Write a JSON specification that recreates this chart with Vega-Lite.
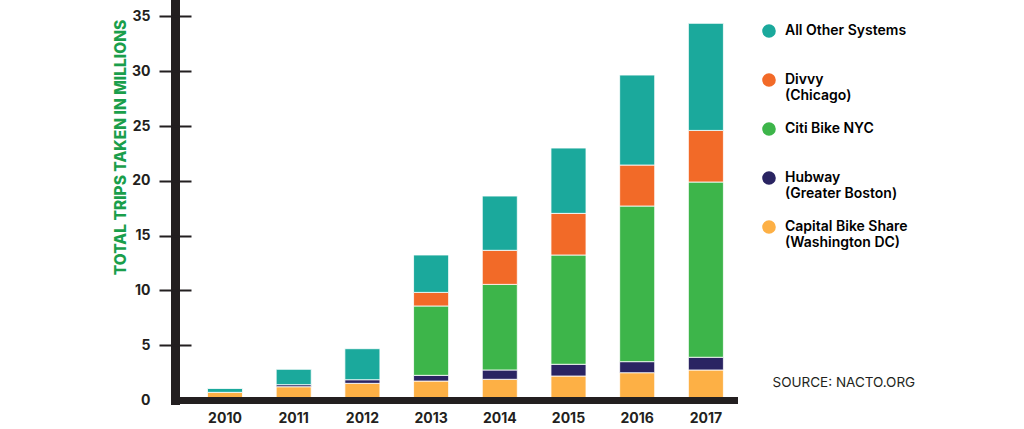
{
  "$schema": "https://vega.github.io/schema/vega-lite/v6.json",
  "width": 559,
  "height": 400,
  "autosize": {"type": "none"},
  "padding": {"left": 175, "top": 0, "right": 290, "bottom": 29},
  "config": {"view": {"stroke": null}, "font": "Inter"},
  "data": {
    "values": [
      {"year": "2010", "system": "Capital Bike Share (Washington DC)", "order": 1, "value": 0.70},
      {"year": "2010", "system": "All Other Systems", "order": 5, "value": 0.35},
      {"year": "2011", "system": "Capital Bike Share (Washington DC)", "order": 1, "value": 1.21},
      {"year": "2011", "system": "Hubway (Greater Boston)", "order": 2, "value": 0.19},
      {"year": "2011", "system": "All Other Systems", "order": 5, "value": 1.40},
      {"year": "2012", "system": "Capital Bike Share (Washington DC)", "order": 1, "value": 1.52},
      {"year": "2012", "system": "Hubway (Greater Boston)", "order": 2, "value": 0.33},
      {"year": "2012", "system": "All Other Systems", "order": 5, "value": 2.83},
      {"year": "2013", "system": "Capital Bike Share (Washington DC)", "order": 1, "value": 1.73},
      {"year": "2013", "system": "Hubway (Greater Boston)", "order": 2, "value": 0.52},
      {"year": "2013", "system": "Citi Bike NYC", "order": 3, "value": 6.33},
      {"year": "2013", "system": "Divvy (Chicago)", "order": 4, "value": 1.24},
      {"year": "2013", "system": "All Other Systems", "order": 5, "value": 3.41},
      {"year": "2014", "system": "Capital Bike Share (Washington DC)", "order": 1, "value": 1.89},
      {"year": "2014", "system": "Hubway (Greater Boston)", "order": 2, "value": 0.85},
      {"year": "2014", "system": "Citi Bike NYC", "order": 3, "value": 7.81},
      {"year": "2014", "system": "Divvy (Chicago)", "order": 4, "value": 3.11},
      {"year": "2014", "system": "All Other Systems", "order": 5, "value": 4.95},
      {"year": "2015", "system": "Capital Bike Share (Washington DC)", "order": 1, "value": 2.19},
      {"year": "2015", "system": "Hubway (Greater Boston)", "order": 2, "value": 1.07},
      {"year": "2015", "system": "Citi Bike NYC", "order": 3, "value": 9.97},
      {"year": "2015", "system": "Divvy (Chicago)", "order": 4, "value": 3.80},
      {"year": "2015", "system": "All Other Systems", "order": 5, "value": 5.96},
      {"year": "2016", "system": "Capital Bike Share (Washington DC)", "order": 1, "value": 2.49},
      {"year": "2016", "system": "Hubway (Greater Boston)", "order": 2, "value": 1.01},
      {"year": "2016", "system": "Citi Bike NYC", "order": 3, "value": 14.20},
      {"year": "2016", "system": "Divvy (Chicago)", "order": 4, "value": 3.74},
      {"year": "2016", "system": "All Other Systems", "order": 5, "value": 8.21},
      {"year": "2017", "system": "Capital Bike Share (Washington DC)", "order": 1, "value": 2.74},
      {"year": "2017", "system": "Hubway (Greater Boston)", "order": 2, "value": 1.16},
      {"year": "2017", "system": "Citi Bike NYC", "order": 3, "value": 15.99},
      {"year": "2017", "system": "Divvy (Chicago)", "order": 4, "value": 4.71},
      {"year": "2017", "system": "All Other Systems", "order": 5, "value": 9.77}
    ]
  },
  "layer": [
    {
      "mark": {"type": "bar", "stroke": "white", "strokeWidth": 0.8},
      "encoding": {
        "x": {
          "field": "year", "type": "ordinal",
          "scale": {"paddingInner": 0.49, "paddingOuter": 0.3135, "align": 0.754},
          "axis": {
            "domain": true, "domainWidth": 7, "domainColor": "#231f20", "domainCap": "square",
            "ticks": false, "tickSize": 0, "labelPadding": 18, "labelBaseline": "middle",
            "labelAngle": 0, "labelFontSize": 14, "labelFontWeight": "bold", "labelColor": "#231f20",
            "title": "SOURCE: NACTO.ORG", "titleX": 597, "titleY": -18, "titleAlign": "left",
            "titleBaseline": "middle", "titleFontSize": 13.5, "titleFontWeight": "normal",
            "titleColor": "#231f20", "zindex": 1, "grid": false
          }
        },
        "y": {
          "field": "value", "type": "quantitative", "stack": "zero",
          "scale": {"domain": [0, 36.5], "nice": false},
          "axis": {
            "orient": "left", "values": [0, 5, 10, 15, 20, 25, 30, 35],
            "domain": true, "domainWidth": 9, "domainColor": "#231f20", "domainCap": "square",
            "ticks": false, "tickSize": 0, "labelPadding": 25, "labelFlush": false, "labelOverlap": false,
            "labelFontSize": 14, "labelFontWeight": "bold", "labelColor": "#231f20",
            "grid": false,
            "title": "TOTAL TRIPS TAKEN IN MILLIONS", "titleColor": "#1a9e4b", "titleFontSize": 15.5,
            "titleFontWeight": 800, "titleAngle": 270, "titleX": -55, "titleY": 147,
            "titleAlign": "center", "titleBaseline": "middle", "zindex": 1
          }
        },
        "color": {
          "field": "system", "type": "nominal",
          "scale": {
            "domain": ["All Other Systems", "Divvy (Chicago)", "Citi Bike NYC", "Hubway (Greater Boston)", "Capital Bike Share (Washington DC)"],
            "range": ["#1ba99c", "#f26a28", "#3db54a", "#2a2462", "#fdb045"]
          },
          "legend": {
            "orient": "none", "legendX": 587, "legendY": 24, "title": null,
            "symbolType": "circle", "symbolSize": 185, "symbolStrokeWidth": 0,
            "labelFontSize": 14, "labelFont": "Inter", "labelFontWeight": 600, "labelOffset": 9,
            "labelBaseline": "middle", "labelLimit": 300, "rowPadding": 19, "gridAlign": "all",
            "labelExpr": "indexof(datum.label, ' (') > 0 ? [substring(datum.label, 0, indexof(datum.label, ' (')), substring(datum.label, indexof(datum.label, ' (') + 1)] : datum.label",
            "encode": {"labels": {"update": {"fill": {"scale": "color", "field": "value"}, "lineHeight": {"value": 20}}}}
          }
        },
        "order": {"field": "order", "type": "quantitative"}
      }
    },
    {
      "mark": {"type": "bar", "opacity": 0},
      "encoding": {
        "x": {"field": "year", "type": "ordinal"},
        "y": {
          "field": "value", "type": "quantitative",
          "axis": {
            "orient": "left", "values": [5, 10, 15, 20, 25, 30, 35],
            "domain": false, "labels": false, "ticks": true, "tickSize": 32, "tickWidth": 2.2,
            "tickColor": "#231f20", "offset": -16, "title": null, "grid": false, "zindex": 1
          }
        }
      }
    }
  ],
  "resolve": {"axis": {"y": "independent"}}
}
